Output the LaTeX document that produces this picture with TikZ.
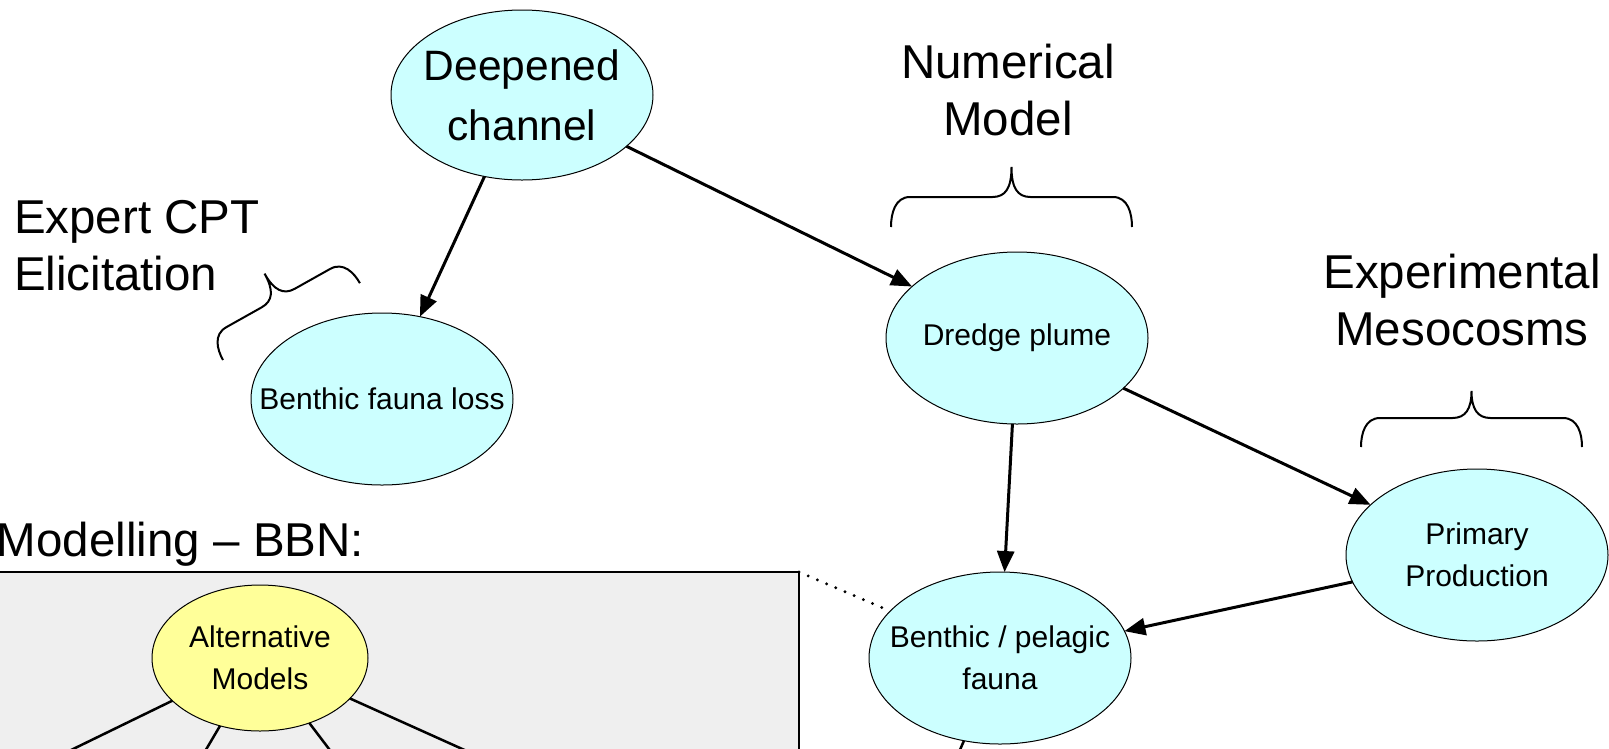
\documentclass[tikz,border=0pt]{standalone}
\usepackage{fontspec}
\setmainfont{Liberation Sans}
\usetikzlibrary{shapes.geometric,arrows.meta}
\definecolor{nodecyan}{HTML}{CCFFFF}
\definecolor{nodeyellow}{HTML}{FFFF99}
\definecolor{boxgray}{HTML}{EFEFEF}
\begin{document}
\begin{tikzpicture}[x=1pt,y=-1pt,
  every node/.style={inner sep=0pt, outer sep=0pt},
  bnode/.style={ellipse, draw=black, line width=1pt, fill=nodecyan,
    inner xsep=-45pt, inner ysep=0pt,
    minimum width=262pt, minimum height=172pt, align=center,
    font=\fontsize{30}{42}\selectfont},
  altnode/.style={ellipse, draw=black, line width=1pt, fill=nodeyellow,
    inner xsep=-30pt, inner ysep=0pt,
    minimum width=216pt, minimum height=146pt, align=center,
    font=\fontsize{30}{42}\selectfont},
  bbnbox/.style={rectangle, draw=black, line width=2pt, fill=boxgray},
  biglabel/.style={font=\fontsize{47.5}{57}\selectfont},
  arr/.style={line width=3pt, -{Triangle[length=21pt,width=17pt]}},
  plainline/.style={line width=2.5pt},
  dotline/.style={line width=3.2pt, line cap=round, dash pattern=on 0pt off 10pt},
  pics/curly/.style n args={3}{code={
    \draw[line width=2pt]
      (0,0) .. controls (0,{-0.45*#2}) and (4,-#2) .. (19,-#2)
      -- ({#1-19},-#2) .. controls ({#1-6},-#2) and (#1,{-#2-9}) .. (#1,-#3)
      .. controls (#1,{-#2-9}) and ({#1+6},-#2) .. ({#1+19},-#2)
      -- ({2*#1-19},-#2) .. controls ({2*#1-4},-#2) and ({2*#1},{-0.45*#2}) .. ({2*#1},0);
  }}
]
\useasboundingbox (0,0) rectangle (1609,748);

% BBN box
\node[bbnbox, minimum width=809pt, minimum height=230pt] (bbn) at (394.5,687) {};
\node[biglabel, anchor=base west] (bbnlabel) at (-3,556) {Modelling – BBN:};

% alternative models
\node[altnode] (alt) at (260,658) {Alternative\\Models};
\coordinate (c1) at (30,770);
\coordinate (c2) at (194,770);
\coordinate (c3) at (345,770);
\coordinate (c4) at (509,770);
\draw[plainline] (alt) -- (c1);
\draw[plainline] (alt) -- (c2);
\draw[plainline] (alt) -- (c3);
\draw[plainline] (alt) -- (c4);

% main nodes
\node[bnode, minimum height=170pt, font=\fontsize{42.5}{60}\selectfont] (deep) at (522,95) {Deepened\\channel};
\node[bnode] (bfl) at (382,399) {Benthic fauna loss};
\node[bnode] (dp) at (1017,338) {Dredge plume};
\node[bnode] (pp) at (1477,555) {Primary\\Production};
\node[bnode] (bp) at (1000,658) {Benthic / pelagic\\fauna};

% connectors
\draw[arr] (deep) -- (bfl);
\draw[arr] (deep) -- (dp);
\draw[arr] (dp) -- (bp);
\draw[arr] (dp) -- (pp);
\draw[arr] (pp) -- (bp);
\draw[dotline] (bbn.north east) -- (bp);
\coordinate (down) at (949,775);
\draw[line width=2.5pt] (bp) -- (down);

% labels
\node[biglabel, align=center, anchor=north] (nm) at (1008,44) {Numerical\\Model};
\node[biglabel, align=center, anchor=north] (em) at (1462,254) {Experimental\\Mesocosms};
\node[biglabel, align=left, anchor=north west] (ex) at (14,200) {Expert CPT\\Elicitation};

% braces
\pic at (891,227) {curly={120.5}{30}{60}};
\pic at (1361,447) {curly={110.5}{29}{56}};
\pic[rotate=29.3] at (223,360) {curly={78.5}{27}{55}};
\end{tikzpicture}
\end{document}
